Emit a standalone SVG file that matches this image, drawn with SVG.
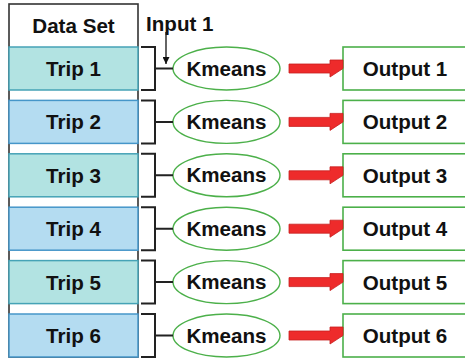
<svg xmlns="http://www.w3.org/2000/svg" width="465" height="360" viewBox="0 0 465 360">
  <defs>
    <style>
      text { font-family: "Liberation Sans", Arial, sans-serif; font-weight: bold; font-size: 20.6px; fill: #111; }
      .mid { text-anchor: middle; }
      .tripA { fill: #b2e3e2; stroke: #45a3b6; stroke-width: 1.5; }
      .tripB { fill: #b4dcf1; stroke: #4596c9; stroke-width: 1.5; }
      .bracket { fill: none; stroke: #222; stroke-width: 2; }
      .kmeans { fill: #fff; stroke: #4cb04a; stroke-width: 1.4; }
      .out { fill: #fff; stroke: #4cb04a; stroke-width: 1.6; }
      .red { fill: #ee2b2b; stroke: #c62020; stroke-width: 0.8; }
    </style>
    <marker id="head" viewBox="0 0 10 10" refX="10" refY="5" markerWidth="7" markerHeight="7" markerUnits="userSpaceOnUse" orient="auto">
      <path d="M0,0 L10,5 L0,10 Z" fill="#111"/>
    </marker>
    <path id="redArrow" class="red" d="M0,-4.5 H41 V-8.5 H54 L54,0 L54,0 L41,8.5 V4.5 H0 Z"/>
  </defs>

  <!-- data set column -->
  <g id="dataset">
    <rect x="9" y="4" width="129" height="353" fill="#fff" stroke="#333" stroke-width="1.6"/>
    <text class="mid" x="73.5" y="33">Data Set</text>
  </g>

  <g id="trip1"><rect class="tripA" x="9" y="47" width="129" height="43"/><text class="mid" x="73.5" y="76">Trip 1</text></g>
  <g id="trip2"><rect class="tripB" x="9" y="100.4" width="129" height="43"/><text class="mid" x="73.5" y="129.4">Trip 2</text></g>
  <g id="trip3"><rect class="tripA" x="9" y="153.8" width="129" height="43"/><text class="mid" x="73.5" y="182.8">Trip 3</text></g>
  <g id="trip4"><rect class="tripB" x="9" y="207.2" width="129" height="43"/><text class="mid" x="73.5" y="236.2">Trip 4</text></g>
  <g id="trip5"><rect class="tripA" x="9" y="260.6" width="129" height="43"/><text class="mid" x="73.5" y="289.6">Trip 5</text></g>
  <g id="trip6"><rect class="tripB" x="9" y="314" width="129" height="43"/><text class="mid" x="73.5" y="343">Trip 6</text></g>

  <!-- k-means blocks -->
  <g id="kmeans1"><ellipse class="kmeans" cx="226.5" cy="68.5" rx="53.5" ry="21.5"/><text class="mid" x="226.5" y="75.5">Kmeans</text></g>
  <g id="kmeans2"><ellipse class="kmeans" cx="226.5" cy="121.9" rx="53.5" ry="21.5"/><text class="mid" x="226.5" y="128.9">Kmeans</text></g>
  <g id="kmeans3"><ellipse class="kmeans" cx="226.5" cy="175.3" rx="53.5" ry="21.5"/><text class="mid" x="226.5" y="182.3">Kmeans</text></g>
  <g id="kmeans4"><ellipse class="kmeans" cx="226.5" cy="228.7" rx="53.5" ry="21.5"/><text class="mid" x="226.5" y="235.7">Kmeans</text></g>
  <g id="kmeans5"><ellipse class="kmeans" cx="226.5" cy="282.1" rx="53.5" ry="21.5"/><text class="mid" x="226.5" y="289.1">Kmeans</text></g>
  <g id="kmeans6"><ellipse class="kmeans" cx="226.5" cy="335.5" rx="53.5" ry="21.5"/><text class="mid" x="226.5" y="342.5">Kmeans</text></g>

  <!-- outputs -->
  <g id="output1"><rect class="out" x="343" y="47" width="130" height="43"/><text class="mid" x="405" y="76">Output 1</text></g>
  <g id="output2"><rect class="out" x="343" y="100.4" width="130" height="43"/><text class="mid" x="405" y="129.4">Output 2</text></g>
  <g id="output3"><rect class="out" x="343" y="153.8" width="130" height="43"/><text class="mid" x="405" y="182.8">Output 3</text></g>
  <g id="output4"><rect class="out" x="343" y="207.2" width="130" height="43"/><text class="mid" x="405" y="236.2">Output 4</text></g>
  <g id="output5"><rect class="out" x="343" y="260.6" width="130" height="43"/><text class="mid" x="405" y="289.6">Output 5</text></g>
  <g id="output6"><rect class="out" x="343" y="314" width="130" height="43"/><text class="mid" x="405" y="343">Output 6</text></g>

  <g id="input1"><text x="146" y="30.5">Input 1</text></g>

  <!-- connectors: brackets, input arrow, red arrows -->
  <g id="connectors">
    <path class="bracket" d="M141,47 H155 V90 H141 M155,68.5 H173"/>
    <path class="bracket" d="M141,100.4 H155 V143.4 H141 M155,121.9 H173"/>
    <path class="bracket" d="M141,153.8 H155 V196.8 H141 M155,175.3 H173"/>
    <path class="bracket" d="M141,207.2 H155 V250.2 H141 M155,228.7 H173"/>
    <path class="bracket" d="M141,260.6 H155 V303.6 H141 M155,282.1 H173"/>
    <path class="bracket" d="M141,314 H155 V357 H141 M155,335.5 H173"/>
    <line x1="166" y1="32" x2="166" y2="64" stroke="#111" stroke-width="1.3" marker-end="url(#head)"/>
    <use href="#redArrow" x="289" y="68.5"/>
    <use href="#redArrow" x="289" y="121.9"/>
    <use href="#redArrow" x="289" y="175.3"/>
    <use href="#redArrow" x="289" y="228.7"/>
    <use href="#redArrow" x="289" y="282.1"/>
    <use href="#redArrow" x="289" y="335.5"/>
  </g>
</svg>
